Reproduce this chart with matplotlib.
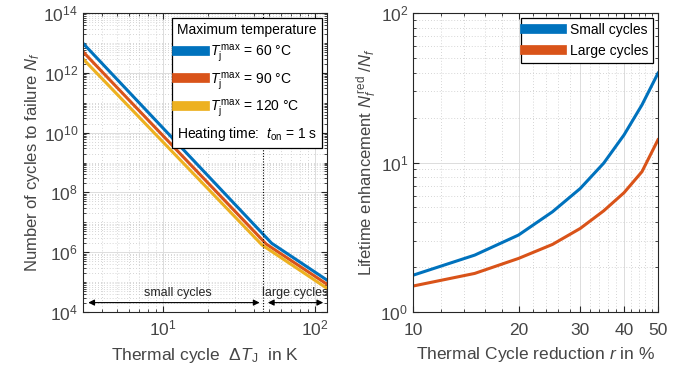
import numpy as np
import matplotlib
matplotlib.use("Agg")
import matplotlib.pyplot as plt
from matplotlib.lines import Line2D
from matplotlib.ticker import FixedLocator, LogLocator, NullFormatter

plt.rcParams['font.family'] = ['Liberation Sans', 'DejaVu Sans']
plt.rcParams['mathtext.fontset'] = 'custom'
plt.rcParams['mathtext.rm'] = 'Liberation Sans'
plt.rcParams['mathtext.it'] = 'Liberation Sans:italic'
plt.rcParams['mathtext.bf'] = 'Liberation Sans:bold'

# --- data: left panel (cycles to failure vs thermal cycle) ---
dT_60 = [3, 52, 120]
Nf_60 = [9.8e12, 2.0e6, 1.17e5]
dT_90 = [3, 48, 120]
Nf_90 = [5.1e12, 1.86e6, 8.5e4]
dT_120 = [3, 45, 120]
Nf_120 = [2.95e12, 1.74e6, 6.2e4]
temp_labels = ["60", "90", "120"]
dT_border = 45.5

# --- data: right panel (lifetime enhancement vs reduction) ---
r_pct = [10, 15, 20, 25, 30, 35, 40, 45, 50]
enh_small = [1.76, 2.4, 3.27, 4.68, 6.7, 9.9, 15.3, 24.3, 39.6]
enh_large = [1.49, 1.81, 2.28, 2.83, 3.62, 4.75, 6.28, 8.68, 14.2]

c_blue = '#0072BD'
c_orange = '#D95319'
c_yellow = '#EDB120'
txt = '#262626'
lbl = '#454545'

fig = plt.figure(figsize=(6.83, 3.74), dpi=100)
ax1 = fig.add_axes([0.1215, 0.166, 0.357, 0.799])
ax2 = fig.add_axes([0.6047, 0.166, 0.3587, 0.799])


def style(ax):
    ax.set_xscale('log')
    ax.set_yscale('log')
    ax.grid(True, which='major', color='#dcdcdc', lw=0.7, ls='-')
    ax.grid(True, which='minor', color='#c8c8c8', lw=0.6, ls=(0, (1, 2.5)))
    ax.set_axisbelow(True)
    ax.tick_params(which='both', direction='in', top=True, right=True,
                   colors=txt, labelcolor=lbl, labelsize=12.5)
    ax.tick_params(which='major', length=4)
    ax.tick_params(which='minor', length=2)
    for s in ax.spines.values():
        s.set_color(txt)
        s.set_linewidth(0.8)


# ===== left panel =====
style(ax1)
ax1.plot(dT_60, Nf_60, color=c_blue, lw=2.2)
ax1.plot(dT_90, Nf_90, color=c_orange, lw=2.2)
ax1.plot(dT_120, Nf_120, color=c_yellow, lw=2.2)
ax1.set_xlim(3, 120)
ax1.set_ylim(1e4, 1e14)
ax1.yaxis.set_major_locator(FixedLocator([1e4, 1e6, 1e8, 1e10, 1e12, 1e14]))
ax1.yaxis.set_minor_locator(LogLocator(base=10, subs=np.arange(1, 10), numticks=30))
ax1.yaxis.set_minor_formatter(NullFormatter())
ax1.xaxis.set_minor_locator(LogLocator(base=10, subs=np.arange(2, 10), numticks=30))
ax1.xaxis.set_minor_formatter(NullFormatter())
ax1.axvline(dT_border, color='k', lw=0.8, ls=(0, (1, 1.5)))

arrow = dict(arrowstyle='<|-|>', color='k', lw=0.8, mutation_scale=9,
             shrinkA=0, shrinkB=0)
ax1.annotate('', xy=(3.25, 2.05e4), xytext=(43.4, 2.05e4), arrowprops=arrow)
ax1.annotate('', xy=(49.2, 2.05e4), xytext=(113.6, 2.05e4), arrowprops=arrow)
ax1.text(12.6, 4.2e4, 'small cycles', ha='center', va='center', fontsize=9, color=txt)
ax1.text(74, 4.2e4, 'large cycles', ha='center', va='center', fontsize=9, color=txt)

ax1.tick_params(axis='x', which='major', pad=5)
ax1.set_xlabel(r'Thermal cycle  $\Delta T_\mathrm{J}$  in K', fontsize=12.5, color=lbl, labelpad=5)
ax1.set_ylabel(r'Number of cycles to failure $N_f$', fontsize=12, color=lbl, labelpad=1)

handles1 = [Line2D([], [], color=c, lw=7) for c in (c_blue, c_orange, c_yellow)]
labels1 = [r'$T_\mathrm{j}^{\,\mathrm{max}}$ = %s °C' % t for t in temp_labels]
handles1.append(Line2D([], [], alpha=0))
labels1.append(r'Heating time:  $t_\mathrm{on}$ = 1 s')
leg1 = ax1.legend(handles1, labels1, title='Maximum temperature', loc='upper right',
                  fontsize=10, title_fontsize=10, fancybox=False, framealpha=1,
                  edgecolor='k', borderaxespad=0.35, handlelength=2.0,
                  handletextpad=0.4, labelspacing=0.4, borderpad=0.35)
leg1.get_frame().set_linewidth(0.9)
# drop the empty handle of the last row so the text starts at the left
last_row = leg1.get_texts()[-1]
for col in leg1._legend_handle_box.get_children():
    for row in col.get_children():
        kids = row.get_children()
        if len(kids) == 2 and kids[1].get_children()[0] is last_row:
            row._children = [kids[1]]

# ===== right panel =====
style(ax2)
ax2.plot(r_pct, enh_small, color=c_blue, lw=2.2, label='Small cycles')
ax2.plot(r_pct, enh_large, color=c_orange, lw=2.2, label='Large cycles')
ax2.set_xlim(10, 50)
ax2.set_ylim(1, 100)
ax2.xaxis.set_major_locator(FixedLocator([10, 20, 30, 40, 50]))
ax2.xaxis.set_minor_locator(FixedLocator([v for v in range(12, 50, 2) if v % 10]))
ax2.xaxis.set_major_formatter(plt.FuncFormatter(lambda v, p: '%d' % v))
ax2.xaxis.set_minor_formatter(NullFormatter())
ax2.yaxis.set_minor_locator(LogLocator(base=10, subs=np.arange(2, 10), numticks=30))
ax2.yaxis.set_minor_formatter(NullFormatter())
ax2.tick_params(axis='x', which='major', pad=8)
ax2.set_xlabel(r'Thermal Cycle reduction $r$ in %', fontsize=12.5, color=lbl, labelpad=5)
ax2.set_ylabel(r'Lifetime enhancement $N_f^{\,\mathrm{red}}$ $/N_f$', fontsize=12,
               color=lbl, labelpad=1)

handles2 = [Line2D([], [], color=c, lw=7) for c in (c_blue, c_orange)]
leg2 = ax2.legend(handles2, ['Small cycles', 'Large cycles'], loc='upper right',
                  fontsize=10, fancybox=False, framealpha=1, edgecolor='k',
                  borderaxespad=0.35, handlelength=2.6, handletextpad=0.6,
                  labelspacing=0.5, borderpad=0.35)
leg2.get_frame().set_linewidth(0.9)

fig.savefig('out.png', dpi=100)
